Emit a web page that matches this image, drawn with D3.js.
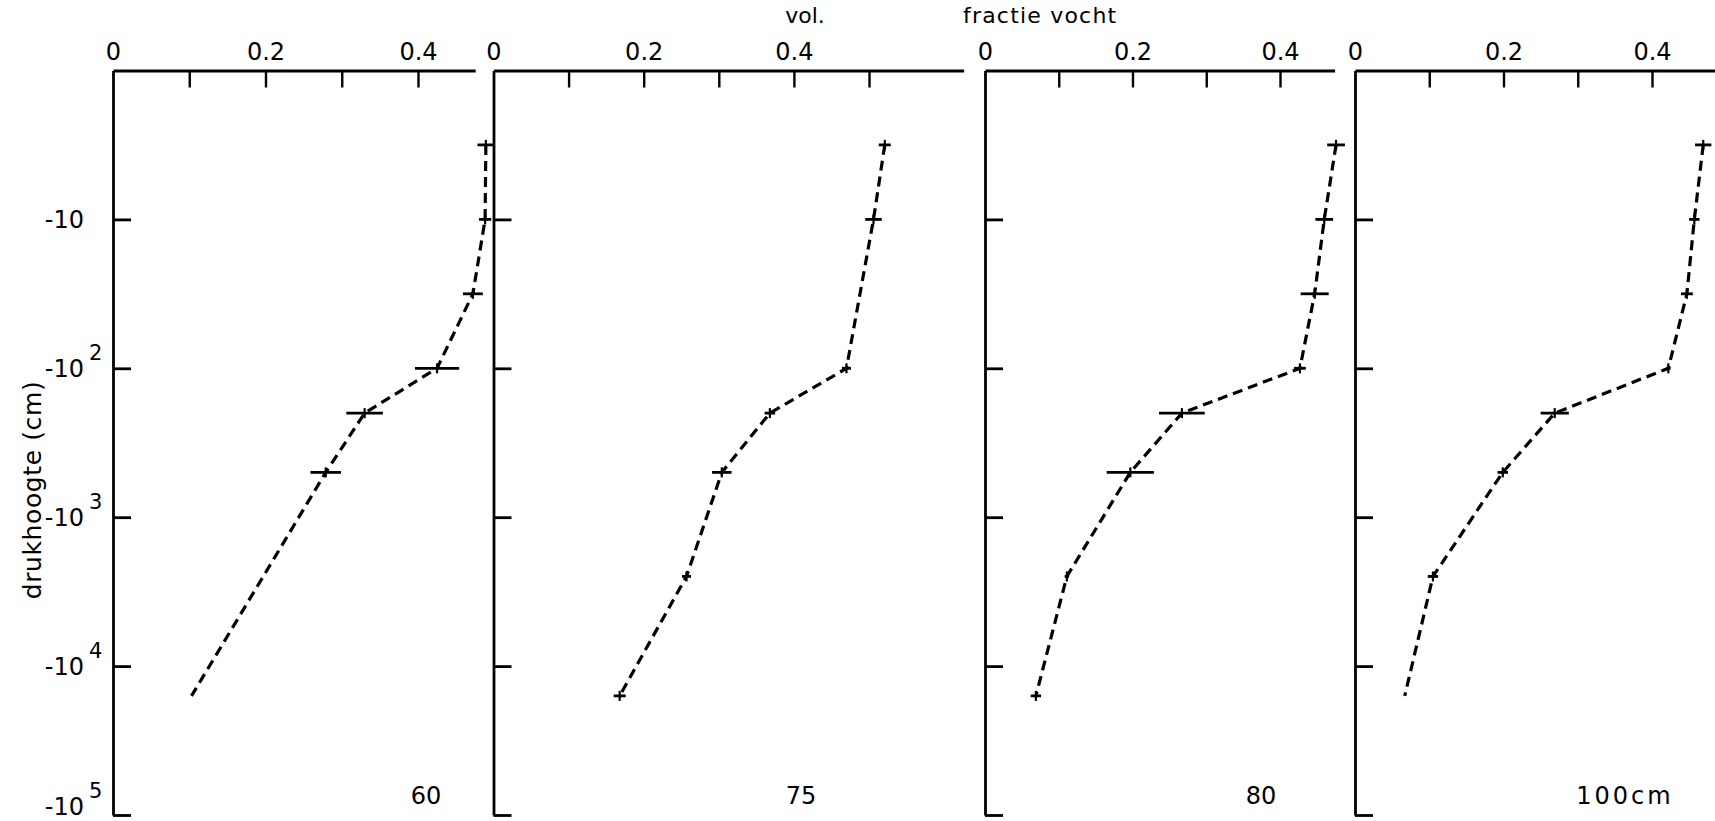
<!DOCTYPE html>
<html><head><meta charset="utf-8">
<script src="https://cdn.jsdelivr.net/npm/d3@7"></script>
<style>
html,body{margin:0;padding:0;background:#fff;}
svg{display:block;}
</style></head><body>
<svg id="chart" width="1715" height="821"></svg>
<script>
// ---------- data ----------
const panelLabels = ["60", "75", "80", "100cm"];

const heads60  = [-3.16, -10, -31.6, -100, -200, -500, -15850];
const theta60  = [0.489, 0.488, 0.472, 0.425, 0.330, 0.279, 0.103];
const err60    = [0.011, 0.008, 0.013, 0.029, 0.024, 0.020, 0];

const heads75  = [-3.16, -10, -100, -200, -500, -2500, -15850];
const theta75  = [0.521, 0.506, 0.470, 0.368, 0.304, 0.257, 0.168];
const err75    = [0.008, 0.011, 0.006, 0.007, 0.013, 0.006, 0.008];

const heads80  = [-3.16, -10, -31.6, -100, -200, -500, -2500, -15850];
const theta80  = [0.476, 0.460, 0.447, 0.427, 0.267, 0.197, 0.111, 0.069];
const err80    = [0.012, 0.012, 0.019, 0.008, 0.031, 0.032, 0.003, 0.007];

const heads100 = [-3.16, -10, -31.6, -100, -200, -500, -2500, -15850];
const theta100 = [0.469, 0.457, 0.447, 0.422, 0.269, 0.199, 0.105, 0.067];
const err100   = [0.011, 0.007, 0.008, 0.003, 0.019, 0.007, 0.007, 0];

const xTickLabelValues = [0, 0.2, 0.4];
const xTickLabels = ["0", "0.2", "0.4"];
const yTickValues = [-10, -100, -1000, -10000, -100000];
const yTickBase = ["-10", "-10", "-10", "-10", "-10"];
const yTickExp = ["", "2", "3", "4", "5"];
const xTitleParts = ["vol.", "fractie vocht"];
const yTitle = "drukhoogte (cm)";

const series = [
  {label: panelLabels[0], h: heads60,  t: theta60,  e: err60},
  {label: panelLabels[1], h: heads75,  t: theta75,  e: err75},
  {label: panelLabels[2], h: heads80,  t: theta80,  e: err80},
  {label: panelLabels[3], h: heads100, t: theta100, e: err100}
];

// ---------- layout ----------
const FONT = "'DejaVu Sans', sans-serif";
const TOP = 70.5, BOTTOM = 815;
const layout = [
  {x0: 113,   unit: 762.5, end: 0.475, minor: [0.1, 0.2, 0.3, 0.4],      labelX: 426},
  {x0: 493.5, unit: 751,   end: 0.626, minor: [0.1, 0.2, 0.3, 0.4, 0.5], labelX: 801},
  {x0: 985,   unit: 737.5, end: 0.474, minor: [0.1, 0.2, 0.3, 0.4],      labelX: 1261},
  {x0: 1355,  unit: 742.5, end: 0.49,  minor: [0.1, 0.2, 0.3, 0.4],      labelX: 1625}
];

const svg = d3.select("#chart");
svg.append("rect").attr("width", 1715).attr("height", 821).attr("fill", "#fff");

const y = d3.scaleLog().domain([-1, -100000]).range([TOP, BOTTOM]);

series.forEach((s, i) => {
  const L = layout[i];
  const x = d3.scaleLinear().domain([0, L.end]).range([L.x0, L.x0 + L.end * L.unit]);
  const g = svg.append("g");

  // top axis line + downward minor ticks
  const gTop = g.append("g").attr("transform", `translate(0,${TOP})`)
    .call(d3.axisBottom(x).tickValues(L.minor).tickSize(17).tickSizeOuter(0).tickFormat(""));
  gTop.selectAll("path.domain").attr("stroke", "#000").attr("stroke-width", 2.8);
  gTop.selectAll(".tick line").attr("stroke", "#000").attr("stroke-width", 2.4);

  // top tick labels
  const gLab = g.append("g").attr("transform", `translate(0,${TOP})`)
    .call(d3.axisTop(x).tickValues(xTickLabelValues)
      .tickFormat((d, j) => xTickLabels[j]).tickSize(0).tickPadding(10.5));
  gLab.select("path.domain").remove();
  gLab.attr("font-size", 24).attr("font-family", FONT);
  gLab.selectAll("text").attr("fill", "#000");

  // left axis with ticks pointing right
  const gY = g.append("g").attr("transform", `translate(${L.x0},0)`)
    .call(d3.axisRight(y).tickValues(yTickValues).tickSize(18).tickSizeOuter(0).tickFormat(""));
  gY.selectAll("path.domain").attr("stroke", "#000").attr("stroke-width", 2.8);
  gY.selectAll(".tick line").attr("stroke", "#000").attr("stroke-width", 2.8);

  const pts = s.h.map((h, k) => ({h: h, t: s.t[k], e: s.e[k]}));

  // dashed curve
  g.append("path").datum(pts)
    .attr("fill", "none").attr("stroke", "#000").attr("stroke-width", 3.2)
    .attr("stroke-dasharray", "10 6")
    .attr("d", d3.line().x(d => x(d.t)).y(d => y(d.h)));

  // error bars
  const eb = pts.filter(d => d.e > 0);
  g.selectAll("line.eb").data(eb).enter().append("line")
    .attr("x1", d => x(d.t - d.e)).attr("x2", d => x(d.t + d.e))
    .attr("y1", d => y(d.h)).attr("y2", d => y(d.h))
    .attr("stroke", "#000").attr("stroke-width", 2.8);
  g.selectAll("line.mk").data(eb).enter().append("line")
    .attr("x1", d => x(d.t)).attr("x2", d => x(d.t))
    .attr("y1", d => y(d.h) - 5).attr("y2", d => y(d.h) + 5)
    .attr("stroke", "#000").attr("stroke-width", 2.2);

  // panel label
  g.append("text").attr("x", L.labelX).attr("y", 804)
    .attr("text-anchor", "middle").attr("font-family", FONT).attr("font-size", 24)
    .attr("letter-spacing", s.label.length > 2 ? 3 : 0)
    .text(s.label);
});

// y tick labels (left panel)
const yl = svg.append("g").attr("font-family", FONT).attr("fill", "#000");
yTickValues.forEach((v, k) => {
  const yy = Math.min(y(v), 806);
  yl.append("text").attr("x", 84).attr("y", yy + 9).attr("text-anchor", "end")
    .attr("font-size", 24).text(yTickBase[k]);
  if (yTickExp[k]) {
    yl.append("text").attr("x", 89).attr("y", yy - 8).attr("text-anchor", "start")
      .attr("font-size", 21).text(yTickExp[k]);
  }
});

// axis titles
svg.append("text").attr("x", 805).attr("y", 23).attr("text-anchor", "middle")
  .attr("font-family", FONT).attr("font-size", 22).text(xTitleParts[0]);
svg.append("text").attr("x", 963).attr("y", 23).attr("text-anchor", "start")
  .attr("font-family", FONT).attr("font-size", 22).attr("letter-spacing", 1.2).text(xTitleParts[1]);
svg.append("text").attr("transform", "translate(41,490) rotate(-90)")
  .attr("text-anchor", "middle").attr("font-family", FONT).attr("font-size", 25)
  .attr("letter-spacing", 0.6)
  .text(yTitle);
</script>
</body></html>
